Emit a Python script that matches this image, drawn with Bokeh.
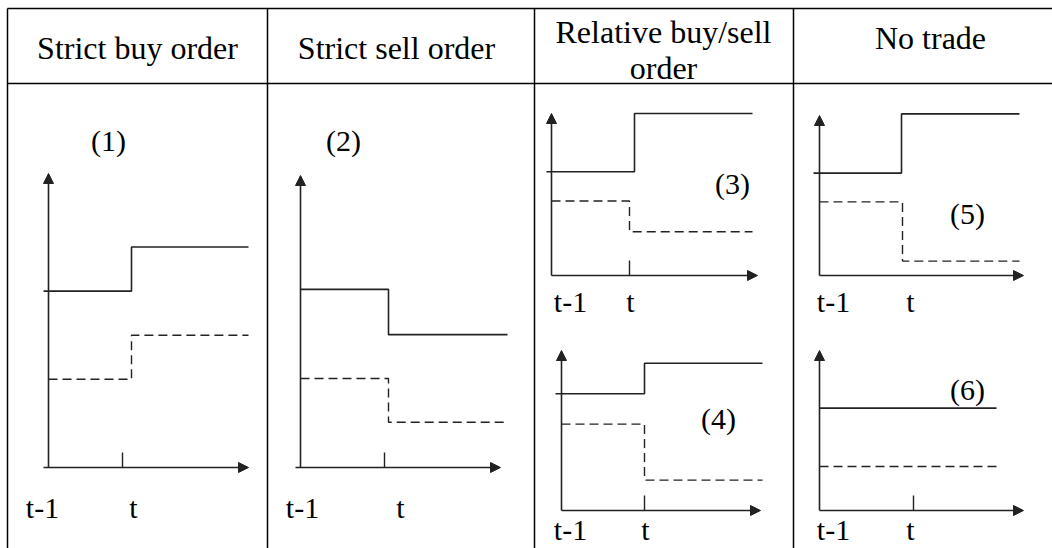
from bokeh.plotting import figure
from bokeh.models import Range1d, Arrow, NormalHead, ColumnDataSource
from bokeh.core.properties import value
from bokeh.embed import file_html
from bokeh.resources import INLINE

# ---- content / values ----
headers = ["Strict buy order", "Strict sell order", "Relative buy/sell", "order", "No trade"]
panel_labels = ["(1)", "(2)", "(3)", "(4)", "(5)", "(6)"]
time_labels = ["t-1", "t"]
# step levels, as a fraction of each panel's y-axis height (before t / after t)
solid_before = [0.60, 0.61, 0.64, 0.73, 0.64, 0.64]
solid_after = [0.75, 0.455, 1.00, 0.92, 1.01, 0.64]
dashed_before = [0.30, 0.305, 0.46, 0.54, 0.46, 0.275]
dashed_after = [0.45, 0.155, 0.27, 0.19, 0.09, 0.275]

# ---- layout (page pixel coordinates) ----
W, H = 1052, 548
TXT_SHIFT = -10
hdr_x = [137, 396, 663, 663, 930]
hdr_y = [57, 57, 41, 77, 47]
col_lines = [7, 267, 534, 793]
row_lines = [8, 83]

# ax, ay: axis origin; top: y-arrow tip; right: x-arrow tip; xs0: x-axis start
# step: solid step x; dstep: dashed step x; end: line end; tick: tick x
# s0: solid line start; lab: panel label pos; tb: time-label baseline; t1x, tx
frames = [
    dict(ax=48, ay=467, top=173, right=248, xs0=43, step=131, dstep=131, end=248, tick=122, s0=43,
         lab=(108, 150), tb=517, t1x=42, tx=133),
    dict(ax=300, ay=467, top=175, right=500, xs0=295, step=388, dstep=388, end=507, tick=384, s0=300,
         lab=(343, 150), tb=517, t1x=302, tx=400),
    dict(ax=551, ay=275, top=113, right=757, xs0=551, step=634, dstep=629, end=752, tick=629, s0=546,
         lab=(732, 193), tb=311, t1x=570, tx=630),
    dict(ax=561, ay=510, top=350, right=760, xs0=561, step=644, dstep=644, end=762, tick=644, s0=555,
         lab=(718, 428), tb=539, t1x=570, tx=645),
    dict(ax=819, ay=275, top=115, right=1023, xs0=819, step=901, dstep=902, end=1019, tick=None, s0=813,
         lab=(967, 223), tb=311, t1x=833, tx=910),
    dict(ax=819, ay=510, top=350, right=1023, xs0=819, step=None, dstep=None, end=996, tick=913, s0=819,
         lab=(967, 399), tb=539, t1x=833, tx=910),
]

INK = "#222222"
FONT = value("Liberation Serif")

p = figure(width=W, height=H, output_backend="svg", toolbar_location=None,
           x_range=Range1d(0, W), y_range=Range1d(H, 0),
           min_border=0, outline_line_color=None)
p.axis.visible = False
p.grid.visible = False
p.background_fill_color = "white"

# table rules
p.segment(x0=col_lines, y0=[row_lines[0]] * len(col_lines), x1=col_lines, y1=[560] * len(col_lines),
          line_color="black", line_width=1.5)
p.segment(x0=[col_lines[0]] * 2, y0=row_lines, x1=[1060] * 2, y1=row_lines,
          line_color="black", line_width=1.5)

# headers
p.text(x=hdr_x, y=[v + TXT_SHIFT for v in hdr_y], text=headers, text_font=FONT,
       text_font_size=value("32px"), text_align="center", text_baseline="alphabetic",
       text_color="black")

solid_xs, solid_ys, dash_xs, dash_ys = [], [], [], []
ax_src = dict(x0=[], y0=[], x1=[], y1=[])
tick_x0, tick_y0, tick_y1 = [], [], []
lab_x, lab_y = [], []
tl_x, tl_y, tl_t = [], [], []

for i, f in enumerate(frames):
    h = f["ay"] - f["top"]
    ysb = f["ay"] - solid_before[i] * h
    ysa = f["ay"] - solid_after[i] * h
    ydb = f["ay"] - dashed_before[i] * h
    yda = f["ay"] - dashed_after[i] * h
    if f["step"] is None:
        solid_xs.append([f["s0"], f["end"]]); solid_ys.append([ysb, ysa])
        dash_xs.append([f["ax"], f["end"]]); dash_ys.append([ydb, yda])
    else:
        solid_xs.append([f["s0"], f["step"], f["step"], f["end"]]); solid_ys.append([ysb, ysb, ysa, ysa])
        dash_xs.append([f["ax"], f["dstep"], f["dstep"], f["end"]]); dash_ys.append([ydb, ydb, yda, yda])
    # y axis
    ax_src["x0"].append(f["ax"]); ax_src["y0"].append(f["ay"])
    ax_src["x1"].append(f["ax"]); ax_src["y1"].append(f["top"])
    # x axis
    ax_src["x0"].append(f["xs0"]); ax_src["y0"].append(f["ay"])
    ax_src["x1"].append(f["right"]); ax_src["y1"].append(f["ay"])
    if f["tick"] is not None:
        tick_x0.append(f["tick"]); tick_y0.append(f["ay"] - 15); tick_y1.append(f["ay"])
    lab_x.append(f["lab"][0]); lab_y.append(f["lab"][1] + TXT_SHIFT)
    tl_x += [f["t1x"], f["tx"]]; tl_y += [f["tb"] + TXT_SHIFT] * 2; tl_t += time_labels

p.multi_line(xs=solid_xs, ys=solid_ys, line_color=INK, line_width=1.6)
p.multi_line(xs=dash_xs, ys=dash_ys, line_color=INK, line_width=1.4, line_dash="9 5")
p.segment(x0=tick_x0, y0=tick_y0, x1=tick_x0, y1=tick_y1, line_color=INK, line_width=1.4)

arrows = Arrow(source=ColumnDataSource(ax_src), x_start="x0", y_start="y0", x_end="x1", y_end="y1",
               line_color=INK, line_width=1.6,
               end=NormalHead(size=10, fill_color=INK, line_color=INK, line_width=1))
p.add_layout(arrows)

p.text(x=lab_x, y=lab_y, text=panel_labels, text_font=FONT, text_font_size=value("30px"),
       text_align="center", text_baseline="alphabetic", text_color="black")
p.text(x=tl_x, y=tl_y, text=tl_t, text_font=FONT, text_font_size=value("30px"),
       text_align="center", text_baseline="alphabetic", text_color="black")

open("out.html", "w").write(file_html(p, INLINE))
